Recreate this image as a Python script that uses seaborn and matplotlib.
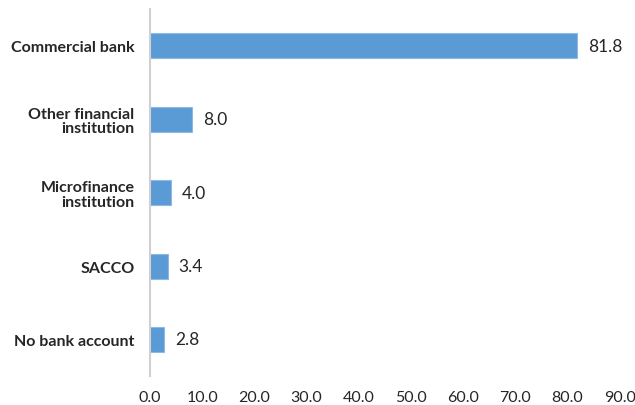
import matplotlib
matplotlib.use("Agg")
import matplotlib.pyplot as plt
import seaborn as sns
import pandas as pd

categories = ["Commercial bank", "Other financial\ninstitution", "Microfinance\ninstitution",
              "SACCO", "No bank account"]
shares = [81.8, 8.0, 4.0, 3.4, 2.8]
x_ticks = [0, 10, 20, 30, 40, 50, 60, 70, 80, 90]

df = pd.DataFrame({"category": categories, "share": shares})

sns.set_style("white")
plt.rcParams["font.family"] = ["Lato", "DejaVu Sans"]

fig = plt.figure(figsize=(6.35, 4.06), dpi=100)
ax = fig.add_axes([0.236, 0.071, 0.740, 0.904])

sns.barplot(data=df, x="share", y="category", orient="h", color="#5B9BD5",
            width=0.34, saturation=1, edgecolor="#8FB8E3", linewidth=0.8, ax=ax)

for cont in ax.containers:
    ax.bar_label(cont, labels=[f"{v:.1f}" for v in shares], padding=8,
                 fontsize=12.5, color="#262626")

ax.set_xlim(0, 90)
ax.set_xticks(x_ticks)
ax.set_xticklabels([f"{t:.1f}" for t in x_ticks], fontsize=11.5, color="#262626")
ax.set_yticks(range(len(categories)))
ax.set_yticklabels(categories, fontsize=11.5, fontweight="bold", color="#262626",
                   linespacing=1.05)
ax.tick_params(axis="both", length=0)
ax.tick_params(axis="y", pad=11)
ax.tick_params(axis="x", pad=10)
ax.set_xlabel("")
ax.set_ylabel("")
ax.set_ylim(4.5, -0.5)

for side in ["top", "right", "bottom"]:
    ax.spines[side].set_visible(False)
ax.spines["left"].set_color("#D0D0D0")
ax.spines["left"].set_linewidth(1.5)

fig.savefig("out.png", dpi=100, facecolor="white")
